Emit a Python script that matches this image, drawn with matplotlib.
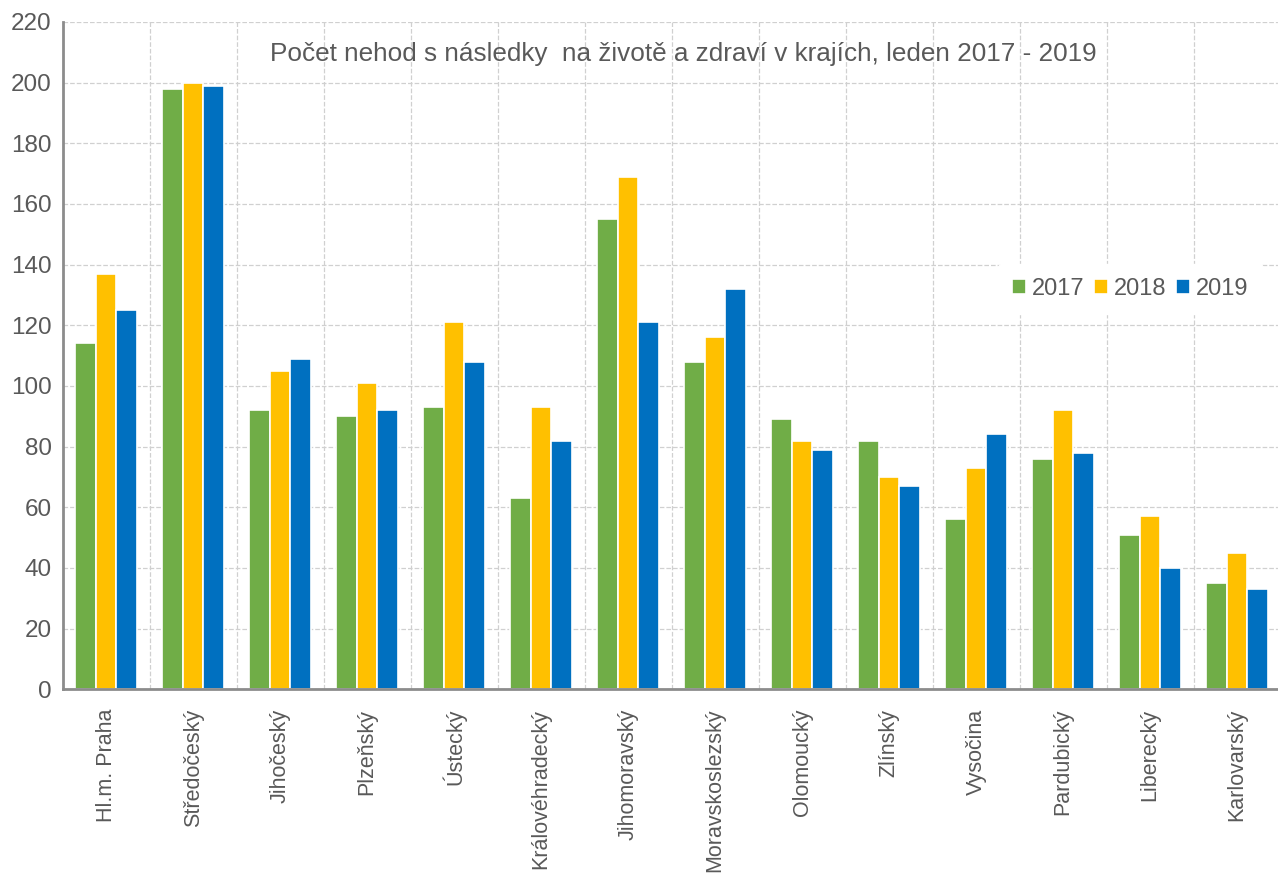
import numpy as np
import matplotlib
matplotlib.use('Agg')
import matplotlib.pyplot as plt

plt.rcParams['font.family'] = ['Liberation Sans', 'DejaVu Sans']

kraje = ['Hl.m. Praha', 'Středočeský', 'Jihočeský', 'Plzeňský', 'Ústecký',
         'Královéhradecký', 'Jihomoravský', 'Moravskoslezský', 'Olomoucký',
         'Zlínský', 'Vysočina', 'Pardubický', 'Liberecký', 'Karlovarský']
r2017 = [114, 198, 92, 90, 93, 63, 155, 108, 89, 82, 56, 76, 51, 35]
r2018 = [137, 200, 105, 101, 121, 93, 169, 116, 82, 70, 73, 92, 57, 45]
r2019 = [125, 199, 109, 92, 108, 82, 121, 132, 79, 67, 84, 78, 40, 33]
roky = ['2017', '2018', '2019']
barvy = ['#70AD47', '#FFC000', '#0070C0']

seda = '#595959'
my_dpi = 100
fig = plt.figure(figsize=(1278/my_dpi, 877/my_dpi), dpi=my_dpi)
ax = fig.add_axes([0.049, 0.214, 0.953, 0.761])
ax.set_axisbelow(True)

ind = np.arange(len(kraje))
w = 0.235
for i, (vals, c, r) in enumerate(zip([r2017, r2018, r2019], barvy, roky)):
    ax.bar(ind + (i - 1) * w, vals, w, color=c, edgecolor='white', linewidth=1.2, label=r, zorder=3)

ax.set_xlim(-0.5, len(kraje) - 0.5)
ax.set_ylim(0, 220)
ax.set_yticks(range(0, 221, 20))
ax.set_xticks(ind)
ax.set_xticklabels(kraje, rotation=90, fontsize=15.5, color=seda)
ax.tick_params(axis='y', labelsize=17.5, labelcolor=seda, length=0, pad=8)
ax.tick_params(axis='x', length=0, pad=14)

# mrizka - vodorovne + svisle mezi kraji
ax.set_xticks(ind[:-1] + 0.5, minor=True)
ax.grid(axis='y', color='#D0D0D0', linestyle='--', linewidth=0.9)
ax.grid(axis='x', which='minor', color='#D0D0D0', linestyle='--', linewidth=0.9)
ax.tick_params(axis='x', which='minor', length=0)

for s in ['top', 'right']:
    ax.spines[s].set_visible(False)
for s in ['left', 'bottom']:
    ax.spines[s].set_color('#8C8C8C')
    ax.spines[s].set_linewidth(2)
    ax.spines[s].set_zorder(4)

ax.text(0.51, 0.97, 'Počet nehod s následky  na životě a zdraví v krajích, leden 2017 - 2019',
        transform=ax.transAxes, ha='center', va='top', fontsize=18.8, color=seda)

leg = ax.legend(loc='upper right', bbox_to_anchor=(0.995, 0.655), ncol=3, frameon=True,
                fontsize=17, handlelength=0.6, handleheight=0.6, handletextpad=0.25,
                columnspacing=0.4, borderpad=0.6)
leg.get_frame().set_edgecolor('white')
leg.get_frame().set_alpha(1)
for t in leg.get_texts():
    t.set_color(seda)

plt.savefig('out.png', dpi=my_dpi)
